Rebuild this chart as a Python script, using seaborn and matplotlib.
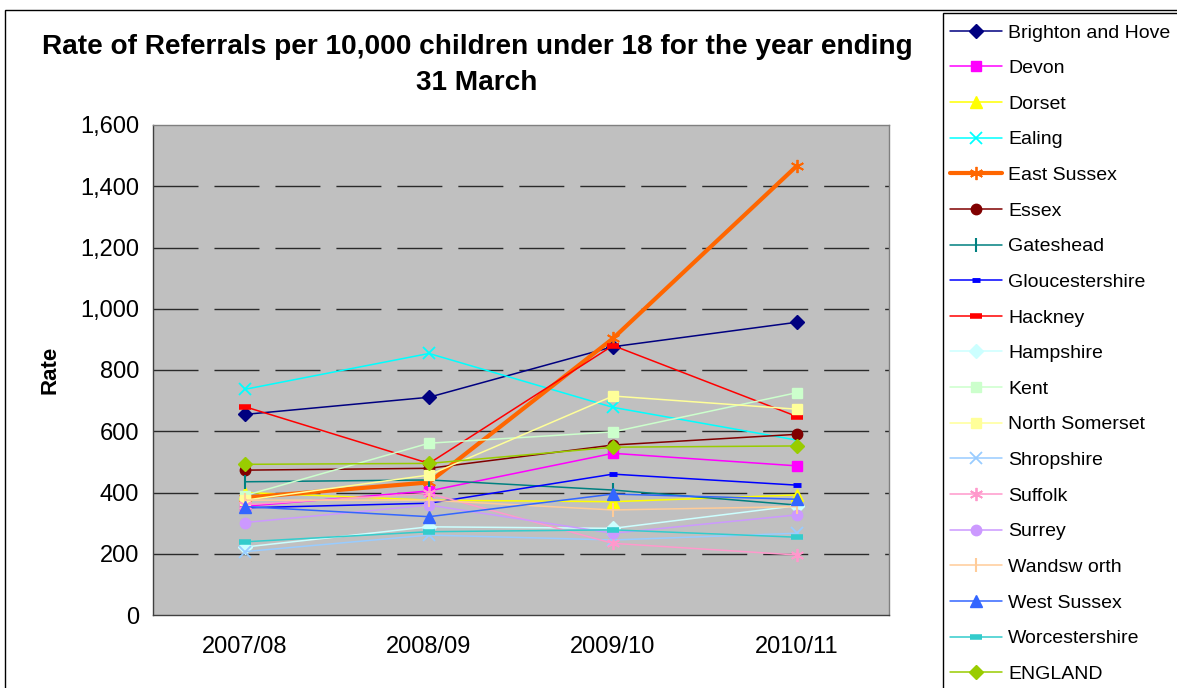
import matplotlib
matplotlib.use("Agg")
import matplotlib.pyplot as plt
import matplotlib.ticker as mticker
from matplotlib.patches import Rectangle
import seaborn as sns
import pandas as pd

years = ["2007/08", "2008/09", "2009/10", "2010/11"]

brighton = [655, 711, 876, 956]
devon = [355, 405, 528, 487]
dorset = [400, 375, 370, 392]
ealing = [737, 854, 678, 571]
east_sussex = [383, 433, 903, 1467]
essex = [473, 479, 555, 590]
gateshead = [435, 441, 408, 359]
gloucestershire = [350, 365, 460, 424]
hackney = [680, 495, 880, 648]
hampshire = [222, 288, 283, 357]
kent = [390, 561, 598, 726]
north_somerset = [375, 457, 715, 672]
shropshire = [207, 261, 245, 267]
suffolk = [360, 397, 234, 196]
surrey = [302, 359, 267, 327]
wandsworth = [375, 375, 343, 354]
west_sussex = [354, 321, 395, 378]
worcestershire = [239, 272, 278, 254]
england = [492, 495, 548, 552]

series_names = ["Brighton and Hove", "Devon", "Dorset", "Ealing", "East Sussex",
                "Essex", "Gateshead", "Gloucestershire", "Hackney", "Hampshire",
                "Kent", "North Somerset", "Shropshire", "Suffolk", "Surrey",
                "Wandsw orth", "West Sussex", "Worcestershire", "ENGLAND"]
series_values = [brighton, devon, dorset, ealing, east_sussex, essex, gateshead,
                 gloucestershire, hackney, hampshire, kent, north_somerset,
                 shropshire, suffolk, surrey, wandsworth, west_sussex,
                 worcestershire, england]

# style per series: colour, marker, markersize, linewidth, mew
styles = [
    ("#000080", "D", 7.0, 1.1, 1.0),
    ("#FF00FF", "s", 7.0, 1.1, 1.0),
    ("#FFFF00", "^", 8.5, 1.1, 1.0),
    ("#00FFFF", "x", 8.0, 1.1, 1.3),
    ("#FF6600", (6, 2, 0), 9.5, 3.0, 1.3),
    ("#800000", "o", 7.5, 1.1, 1.0),
    ("#008080", "|", 10.0, 1.1, 1.5),
    ("#0000FF", "_", 6.0, 1.1, 3.5),
    ("#FF0000", "_", 9.0, 1.1, 4.0),
    ("#CCFFFF", "D", 7.0, 1.1, 1.0),
    ("#CCFFCC", "s", 7.5, 1.1, 1.0),
    ("#FFFF99", "s", 7.5, 1.1, 1.0),
    ("#99CCFF", "x", 8.0, 1.1, 1.3),
    ("#FF99CC", (6, 2, 0), 9.5, 1.1, 1.3),
    ("#CC99FF", "o", 7.5, 1.1, 1.0),
    ("#FFCC99", "|", 10.0, 1.1, 1.5),
    ("#3366FF", "^", 8.5, 1.1, 1.0),
    ("#33CCCC", "_", 9.0, 1.1, 4.0),
    ("#99CC00", "D", 7.0, 1.1, 1.0),
]

sns.set_style("white")
plt.rcParams["font.family"] = ["Liberation Sans", "DejaVu Sans"]
plt.rcParams["text.color"] = "black"
plt.rcParams["axes.labelcolor"] = "black"
plt.rcParams["xtick.color"] = "black"
plt.rcParams["ytick.color"] = "black"

W, H = 1177, 688
fig = plt.figure(figsize=(W / 100, H / 100), dpi=100)
fig.patch.set_facecolor("white")

L, R, T, B = 153, 889, 125, 615
ax = fig.add_axes([L / W, 1 - B / H, (R - L) / W, (B - T) / H])
ax.set_facecolor("#C0C0C0")

xpos = list(range(len(years)))
handles = []
for name, vals, st in zip(series_names, series_values, styles):
    col, mk, ms, lw, mew = st
    df = pd.DataFrame({"x": xpos, "y": vals})
    sns.lineplot(data=df, x="x", y="y", ax=ax, color=col, linewidth=lw,
                 marker=mk, markersize=ms, markeredgewidth=mew,
                 markeredgecolor=col, markerfacecolor=col, zorder=3)
    handles.append(ax.lines[-1])

ax.set_xlim(-0.5, 3.5)
ax.set_ylim(0, 1600)

# gridlines
for gy in range(200, 1600, 200):
    ax.axhline(gy, color="#2a2a2a", linewidth=1.0, dashes=(32.4, 11.5), zorder=1)

ax.set_xticks(xpos)
ax.set_xticklabels(years)
ax.set_xticks([-0.5, 0.5, 1.5, 2.5, 3.5], minor=True)
ax.tick_params(axis="x", which="major", length=0, pad=15, labelsize=17,
               labelcolor="black")
ax.tick_params(axis="x", which="minor", length=5, direction="out", width=0.8, color="#404040")
ax.set_yticks(range(0, 1601, 200))
ax.yaxis.set_major_formatter(mticker.FuncFormatter(lambda v, p: f"{int(v):,}"))
ax.tick_params(axis="y", which="major", length=5, direction="out", width=0.8,
               labelsize=17, color="#404040", labelcolor="black", pad=5)
ax.set_xlabel("")
ax.set_ylabel("Rate", fontsize=16, fontweight="bold", labelpad=14, color="black")

for s in ["left", "bottom"]:
    ax.spines[s].set_color("#404040")
    ax.spines[s].set_linewidth(1.0)
for s in ["top", "right"]:
    ax.spines[s].set_color("#808080")
    ax.spines[s].set_linewidth(1.0)

fig.text(477 / W, 1 - 65 / H,
         "Rate of Referrals per 10,000 children under 18 for the year ending\n31 March",
         ha="center", va="center", fontsize=20.2, fontweight="bold",
         linespacing=1.5, color="black")

# outer chart border and legend box
fig.add_artist(Rectangle((5 / W, -0.1), 1.2, 1 - 10 / H + 0.1,
                         transform=fig.transFigure, fill=False,
                         edgecolor="black", linewidth=1.0))
fig.add_artist(Rectangle((943 / W, -0.1), 1.2, 1 - 13 / H + 0.1,
                         transform=fig.transFigure, fill=False,
                         edgecolor="black", linewidth=1.0))

fs = 14
fs_px = fs * 100 / 72
leg = fig.legend(handles, series_names, loc="upper left",
                 bbox_to_anchor=(939 / W, 1 - 13 / H), frameon=False,
                 fontsize=fs, handlelength=52 / fs_px, handletextpad=6 / fs_px,
                 labelspacing=0.927, borderaxespad=0,
                 borderpad=0.56, labelcolor="black")

fig.savefig("out.png", dpi=100)
